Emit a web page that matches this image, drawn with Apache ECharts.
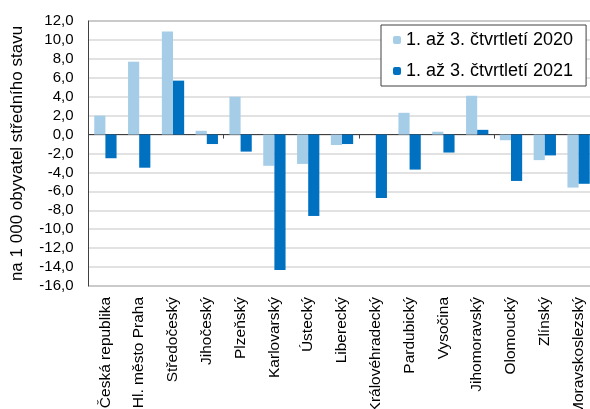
<!DOCTYPE html>
<html>
<head>
<meta charset="utf-8">
<script src="https://cdn.jsdelivr.net/npm/echarts@6/dist/echarts.min.js"></script>
<style>
html,body{margin:0;padding:0;background:#fff;}
#chart{width:590px;height:409px;}
</style>
</head>
<body>
<div id="chart"></div>
<script>
var categories = ["Česká republika","Hl. město Praha","Středočeský","Jihočeský","Plzeňský","Karlovarský","Ústecký","Liberecký","Královéhradecký","Pardubický","Vysočina","Jihomoravský","Olomoucký","Zlínský","Moravskoslezský"];
var values2020 = [2.0, 7.7, 10.9, 0.4, 4.0, -3.3, -3.1, -1.1, 0.0, 2.3, 0.3, 4.1, -0.6, -2.7, -5.6];
var values2021 = [-2.5, -3.5, 5.7, -1.0, -1.8, -14.3, -8.6, -1.0, -6.7, -3.7, -1.9, 0.5, -4.9, -2.2, -5.2];
var seriesNames = ["1. až 3. čtvrtletí 2020", "1. až 3. čtvrtletí 2021"];
var yAxisTitle = "na 1 000 obyvatel středního stavu";

var FONT = "'Liberation Sans', Arial, sans-serif";
var chart = echarts.init(document.getElementById('chart'));
chart.setOption({
  animation: false,
  textStyle: {fontFamily: FONT},
  grid: {left: 88.5, top: 21, bottom: 123, width: 507, outerBoundsMode: 'none', containLabel: false,
         show: true, borderColor: '#404040', borderWidth: 1, backgroundColor: 'transparent'},
  legend: {
    orient: 'vertical', left: 381, top: 25,
    padding: [6, 13, 6, 12],
    itemWidth: 8, itemHeight: 8, itemGap: 13,
    backgroundColor: '#fff', borderColor: '#404040', borderWidth: 1,
    textStyle: {fontSize: 18, color: '#000', fontFamily: FONT},
    data: seriesNames
  },
  xAxis: [{
    type: 'category', data: categories, position: 'bottom',
    axisLine: {show: false, onZero: false},
    axisTick: {show: false},
    axisLabel: {rotate: 90, fontSize: 15.5, color: '#000', margin: 11, interval: 0, fontFamily: FONT}
  }, {
    type: 'category', data: categories, position: 'top',
    axisLine: {show: true, onZero: true, lineStyle: {color: '#404040', width: 1}},
    axisTick: {show: true, inside: true, length: 4, lineStyle: {color: '#404040'}},
    axisLabel: {show: false}
  }],
  yAxis: {
    type: 'value', min: -16, max: 12, interval: 2,
    name: yAxisTitle, nameLocation: 'middle', nameRotate: 90, nameGap: 63,
    nameTextStyle: {fontSize: 17, color: '#000', fontFamily: FONT},
    axisLine: {show: true, lineStyle: {color: '#404040'}},
    axisTick: {show: false},
    axisLabel: {fontSize: 15, color: '#000', margin: 15, fontFamily: FONT,
      formatter: function(v){ return v.toFixed(1).replace('.', ','); }},
    splitLine: {lineStyle: {color: '#d9d9d9', width: 1.5}}
  },
  series: [{
    name: seriesNames[0], type: 'bar', data: values2020, xAxisIndex: 0,
    barGap: '0%', barCategoryGap: '34%',
    itemStyle: {color: '#a6cde8'}
  }, {
    name: seriesNames[1], type: 'bar', data: values2021, xAxisIndex: 0,
    barGap: '0%', barCategoryGap: '34%',
    itemStyle: {color: '#0070c0'}
  }]
});
</script>
</body>
</html>
